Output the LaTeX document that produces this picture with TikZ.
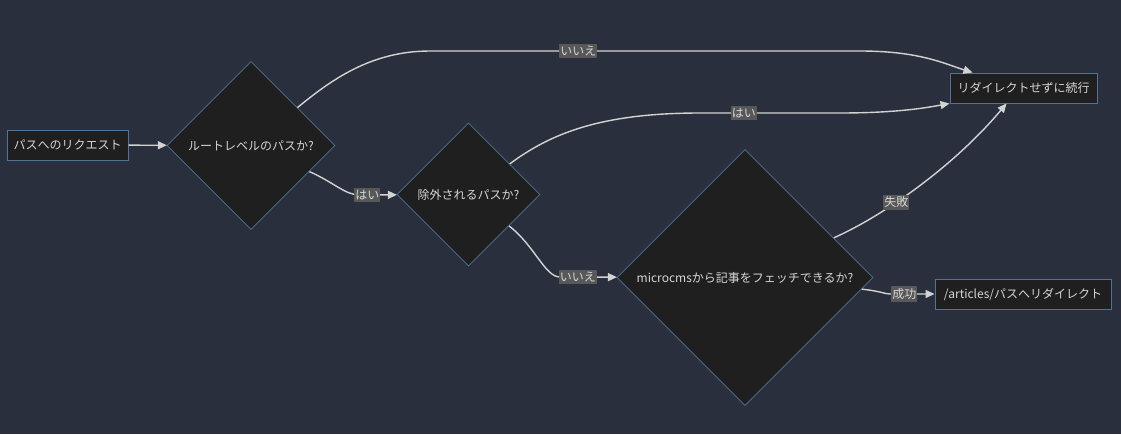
\documentclass[tikz,border=0pt]{standalone}
\usepackage{fontspec}
\newfontfamily\cjk{Noto Sans CJK JP}
\usetikzlibrary{shapes.geometric,arrows.meta}
\definecolor{bgc}{RGB}{41,47,60}
\definecolor{nodefill}{RGB}{31,31,31}
\definecolor{nodeline}{RGB}{80,115,150}
\definecolor{txt}{RGB}{214,214,214}
\definecolor{edgec}{RGB}{211,211,211}
\definecolor{lblbg}{RGB}{88,88,88}
\begin{document}
\begin{tikzpicture}[x=1pt,y=-1pt,
  every node/.style={font=\cjk\fontsize{12}{14}\selectfont, text=txt},
  box/.style={rectangle, draw=nodeline, fill=nodefill, line width=1pt, inner sep=0pt, minimum height=30pt},
  decision/.style={diamond, aspect=1, draw=nodeline, fill=nodefill, line width=0.8pt, inner sep=0pt},
  flow/.style={draw=edgec, line width=1.4pt, -{Triangle[length=9pt,width=8pt]}},
  lbl/.style={fill=lblbg, inner xsep=1pt, inner ysep=2pt}
]
\fill[bgc] (0,0) rectangle (1121,434);
\useasboundingbox (0,0) rectangle (1121,434);

\node[box, minimum width=121pt] (A) at (67.5,145) {パスへのリクエスト};
\node[decision, minimum width=168pt, minimum height=168pt] (B) at (251,145.5) {ルートレベルのパスか?};
\node[decision, minimum width=143pt, minimum height=143pt] (C) at (468.5,194.5) {除外されるパスか?};
\node[decision, minimum width=256pt, minimum height=256pt] (D) at (745,277.5) {microcmsから記事をフェッチできるか?};
\node[box, minimum width=147pt] (E) at (1023.5,88) {リダイレクトせずに続行};
\node[box, minimum width=176pt] (F) at (1023,294) {/articles/パスへリダイレクト};

\draw[flow] (A) -- (B);
\draw[flow] (B) .. controls (330,81) and (370,51) .. (430,51)
   -- node[lbl, pos=0.345] {いいえ} (860,51)
   .. controls (920,51) and (945,64) .. ([xshift=23pt]E.north west);
\draw[flow] (B) .. controls (335,183) and (345,195) .. (360,195)
   -- node[lbl, pos=0.2] {はい} (C);
\draw[flow] (C) .. controls (550,134) and (600,113) .. (700,113)
   -- node[lbl, pos=0.314] {はい} (840,113)
   .. controls (900,113) and (930,107) .. (E.south west);
\draw[flow] (C) .. controls (535,246) and (545,277) .. (560,277)
   -- node[lbl, pos=0.316] {いいえ} (D);
\draw[flow] (D) .. controls (885,215) and (955,165) .. node[lbl, pos=0.37] {失敗} ([xshift=57pt]E.south west);
\draw[flow] (D) .. controls (880,291) and (885,294) .. (890,294)
   -- node[lbl, pos=0.32] {成功} (F);
\end{tikzpicture}
\end{document}
